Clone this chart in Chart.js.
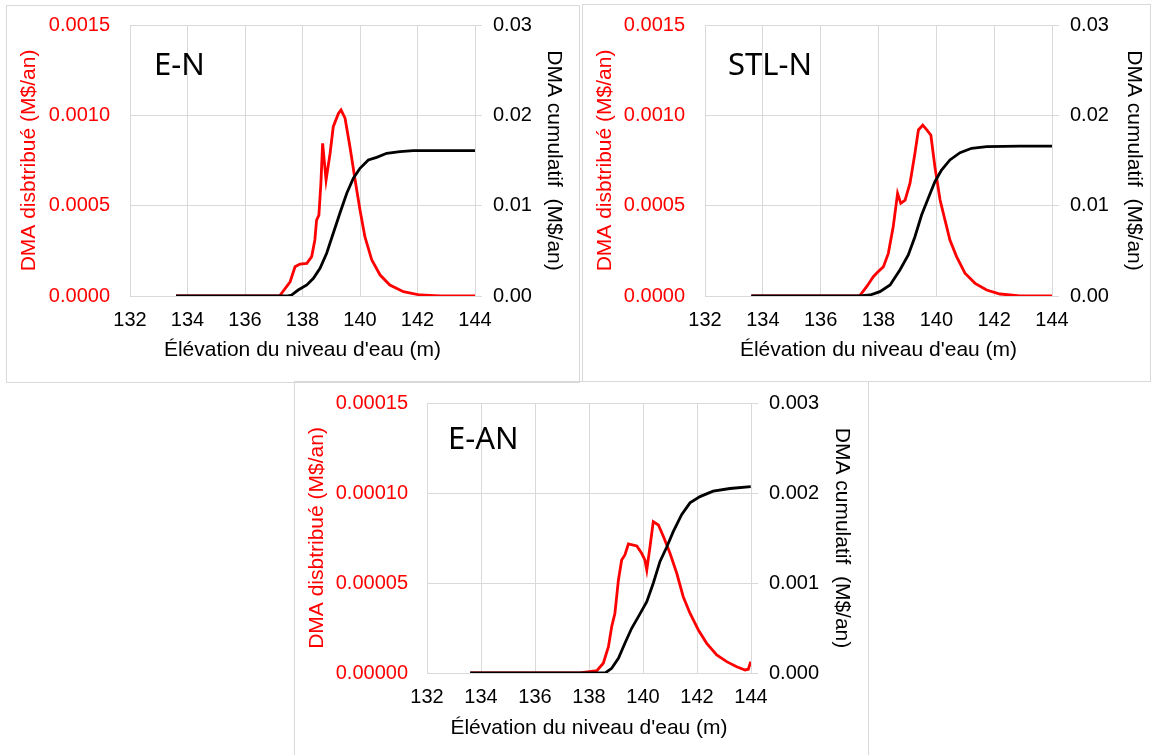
<!DOCTYPE html>
<html>
<head>
<meta charset="UTF-8">
<title>DMA distribué et cumulatif</title>
<script src="https://cdn.jsdelivr.net/npm/chart.js@4.4.1/dist/chart.umd.min.js"></script>
<style>
    body{margin:0;background:#fff;width:1151px;height:755px;overflow:hidden;position:relative;}
    .box{position:absolute;border:1px solid #d9d9d9;box-sizing:border-box;}
    canvas{position:absolute;}
</style>
</head>
<body>
<div class="box" style="left:6px;top:5px;width:574px;height:378px"></div>
<div class="box" style="left:582px;top:4px;width:569px;height:378px"></div>
<div class="box" style="left:294px;top:381px;width:575px;height:380px"></div>

<canvas id="chartEN" width="572" height="377" style="left:6px;top:5px"></canvas>
<canvas id="chartSTLN" width="566" height="377" style="left:582px;top:5px"></canvas>
<canvas id="chartEAN" width="573" height="374" style="left:294px;top:381px"></canvas>

<script>
// E-N
const enRedX=[133.6,137.2,137.57,137.74,137.91,138.15,138.32,138.43,138.49,138.57,138.64,138.70,138.82,138.96,139.07,139.25,139.34,139.48,139.65,139.83,140.0,140.17,140.41,140.70,141.04,141.51,142.09,142.78,144];
const enRedY=[0,0,0.000079,0.000162,0.000177,0.000181,0.000218,0.00031,0.00042,0.000448,0.000624,0.000845,0.000642,0.00079,0.000937,0.00101,0.00103,0.000984,0.000826,0.000642,0.000476,0.000328,0.000199,0.000116,0.000061,0.000024,0.0000055,0,0];
const enBlackX=[133.6,137.45,137.62,137.85,138.15,138.38,138.61,138.84,139.07,139.30,139.54,139.77,140.0,140.29,140.58,140.93,141.39,141.85,142.78,144];
const enBlackY=[0,0,0.00011,0.00066,0.00122,0.00196,0.00307,0.00473,0.00694,0.00916,0.01137,0.01303,0.01414,0.01506,0.01535,0.0158,0.01598,0.01609,0.01609,0.01609];

// STL-N
const stlRedX=[133.6,137.34,137.59,137.82,137.99,138.17,138.34,138.51,138.66,138.77,138.92,139.09,139.26,139.38,139.53,139.67,139.81,139.95,140.13,140.30,140.47,140.70,140.99,141.34,141.74,142.20,142.89,144];
const stlRedY=[0,0,0.0000515,0.000107,0.000135,0.000162,0.000236,0.000384,0.000568,0.000513,0.000531,0.000624,0.00079,0.000919,0.000946,0.000919,0.000891,0.000716,0.000531,0.00042,0.00031,0.000218,0.000126,0.00007,0.000033,0.000011,0,0];
const stlBlackX=[133.6,137.34,137.71,138.05,138.40,138.74,139.03,139.26,139.49,139.72,139.95,140.18,140.47,140.82,141.22,141.74,142.89,144];
const stlBlackY=[0,0,0.00011,0.00048,0.00122,0.00288,0.00454,0.00656,0.00897,0.01081,0.01265,0.01395,0.01506,0.01586,0.01635,0.01653,0.0166,0.0166];

// E-AN
const eanRedX=[133.6,137.67,138.29,138.53,138.72,138.84,138.96,139.09,139.21,139.33,139.46,139.64,139.77,139.95,140.07,140.14,140.26,140.38,140.57,140.76,141.0,141.25,141.49,141.74,142.05,142.36,142.73,143.10,143.47,143.78,143.90,143.99];
const eanRedY=[0,0,0.0000013,0.0000054,0.0000146,0.0000257,0.0000332,0.0000517,0.0000628,0.0000656,0.0000717,0.0000711,0.0000706,0.0000665,0.0000628,0.0000572,0.0000702,0.0000841,0.0000822,0.0000757,0.0000665,0.0000554,0.0000424,0.0000332,0.0000239,0.0000165,0.00001,0.0000063,0.0000035,0.0000017,0.0000021,0.0000063];
const eanBlackX=[133.6,138.6,138.84,139.09,139.33,139.58,139.83,140.14,140.38,140.63,140.88,141.12,141.43,141.74,142.11,142.60,143.22,143.99];
const eanBlackY=[0,0,0.000052,0.000163,0.00033,0.000497,0.000626,0.000792,0.000997,0.00124,0.0014,0.00157,0.00176,0.00189,0.00196,0.00202,0.00205,0.00207];

const xTitle="Élévation du niveau d'eau (m)";
const leftTitle="DMA disbtribué (M$/an)";
const rightTitle="DMA cumulatif  (M$/an)";

Chart.defaults.font.family='"Liberation Sans", Arial, sans-serif';
Chart.defaults.font.size=20;

// big panel name drawn inside the plot
const panelLabel={
    id:'panelLabel',
    afterDraw(chart,args,opts){
        const {ctx,chartArea}=chart;
        ctx.save();
        ctx.font='31px "Noto Sans"';
        ctx.fillStyle='#000';
        ctx.textBaseline='alphabetic';
        ctx.fillText(opts.text,chartArea.left+opts.dx,chartArea.top+opts.dy);
        ctx.restore();
    }
};

function toPoints(xs,ys){
    return xs.map((x,i)=>({x:x,y:ys[i]}));
}

// fixed axis sizes so the plot area lands where the original has it
function fixWidth(w){
    return s=>{s.width=w;s.paddingTop=0;s.paddingBottom=0;};
}
function fixHeight(h){
    return s=>{s.height=h;s.paddingLeft=0;s.paddingRight=0;};
}

function makeChart(id,c){
    return new Chart(document.getElementById(id),{
        type:'scatter',
        data:{datasets:[
            {data:toPoints(c.blackX,c.blackY),yAxisID:'y2',showLine:true,
             borderColor:'#000',borderWidth:2.8,pointRadius:0,order:1},
            {data:toPoints(c.redX,c.redY),yAxisID:'y',showLine:true,
             borderColor:'#ff0000',borderWidth:2.8,pointRadius:0,order:2}
        ]},
        options:{
            responsive:false,animation:false,devicePixelRatio:1,
            layout:{padding:{top:c.top,left:0,right:0,bottom:0}},
            plugins:{
                legend:{display:false},tooltip:{enabled:false},
                panelLabel:{text:c.name,dx:c.nameDx,dy:c.nameDy}
            },
            scales:{
                x:{type:'linear',min:132,max:144,
                    ticks:{stepSize:2,color:'#000',padding:12},
                    grid:{color:'#d9d9d9',drawTicks:false},
                    border:{color:'#d9d9d9'},
                    title:{display:true,text:xTitle,color:'#000',font:{size:21},
                        padding:{top:0,bottom:c.xTitlePad}},
                    afterFit:fixHeight(c.xHeight)
                },
                y:{type:'linear',position:'left',min:0,max:c.leftMax,
                    ticks:{stepSize:c.leftStep,color:'#ff0000',padding:c.leftPad,
                        callback:v=>v.toFixed(c.leftDigits)},
                    grid:{color:'#d9d9d9',drawTicks:false},
                    border:{color:'#d9d9d9'},
                    title:{display:true,text:leftTitle,color:'#ff0000',font:{size:21},
                        padding:{top:11,bottom:0}},
                    afterFit:fixWidth(c.leftWidth)
                },
                y2:{type:'linear',position:'right',min:0,max:c.rightMax,
                    ticks:{stepSize:c.rightStep,color:'#000',padding:11,
                        callback:v=>v.toFixed(c.rightDigits)},
                    grid:{color:'#d9d9d9',drawOnChartArea:false,drawTicks:true,tickLength:7},
                    border:{color:'#d9d9d9'},
                    title:{display:true,text:rightTitle,color:'#000',font:{size:21},
                        padding:{top:c.rightTitlePad,bottom:0}},
                    afterFit:fixWidth(c.rightWidth)
                }
            }
        },
        plugins:[panelLabel]
    });
}

makeChart('chartEN',{
    name:'E-N',nameDx:24,nameDy:50,
    redX:enRedX,redY:enRedY,blackX:enBlackX,blackY:enBlackY,
    leftMax:0.0015,leftStep:0.0005,leftDigits:4,
    rightMax:0.03,rightStep:0.01,rightDigits:2,
    top:20,xHeight:86,leftWidth:124,rightWidth:103,
    leftPad:20,xTitlePad:19,rightTitlePad:12
});

makeChart('chartSTLN',{
    name:'STL-N',nameDx:23,nameDy:50,
    redX:stlRedX,redY:stlRedY,blackX:stlBlackX,blackY:stlBlackY,
    leftMax:0.0015,leftStep:0.0005,leftDigits:4,
    rightMax:0.03,rightStep:0.01,rightDigits:2,
    top:20,xHeight:86,leftWidth:123,rightWidth:96,
    leftPad:20,xTitlePad:19,rightTitlePad:2
});

makeChart('chartEAN',{
    name:'E-AN',nameDx:21,nameDy:46,
    redX:eanRedX,redY:eanRedY,blackX:eanBlackX,blackY:eanBlackY,
    leftMax:0.00015,leftStep:0.00005,leftDigits:5,
    rightMax:0.003,rightStep:0.001,rightDigits:3,
    top:22,xHeight:82,leftWidth:133,rightWidth:116,
    leftPad:19,xTitlePad:14,rightTitlePad:13
});
</script>
</body>
</html>
